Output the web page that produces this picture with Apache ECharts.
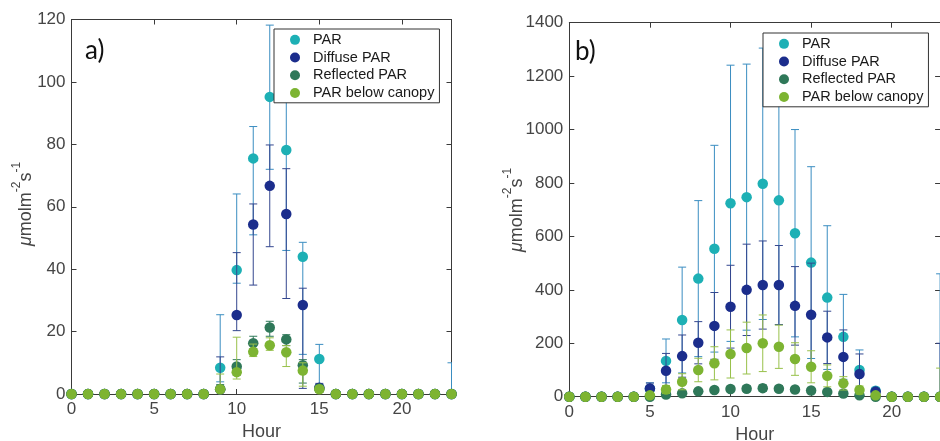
<!DOCTYPE html>
<html>
<head>
<meta charset="utf-8">
<script src="https://cdn.jsdelivr.net/npm/echarts@6/dist/echarts.min.js"></script>
<style>
  html, body { margin: 0; padding: 0; background: #fff; }
  #chart { width: 940px; height: 441px; }
</style>
</head>
<body>
<div id="chart"></div>
<script>
// Hour of day (x axis)
const hours = [0,1,2,3,4,5,6,7,8,9,10,11,12,13,14,15,16,17,18,19,20,21,22,23];

// Panel a) — mean, lower and upper whisker per hour (µmol m-2 s-1)
const parA       = [0,0,0,0,0,0,0,0,0,8.4,39.7,75.5,95.2,78.2,44,11.2,0,0,0,0,0,0,0,0];
const parALow    = [0,0,0,0,0,0,0,0,0,3.9,35.5,51,72,46,12.7,3,0,0,0,0,0,0,0,0];
const parAHigh   = [0,0,0,0,0,0,0,0,0,25.4,64.1,85.7,118.2,110,48.6,15.9,0,0,0,0,0,0,0,10];
const diffA      = [0,0,0,0,0,0,0,0,0,1.5,25.3,54.3,66.7,57.7,28.5,2,0,0,0,0,0,0,0,0];
const diffALow   = [0,0,0,0,0,0,0,0,0,0,20.3,34.9,47.2,30.6,1.8,0.5,0,0,0,0,0,0,0,0];
const diffAHigh  = [0,0,0,0,0,0,0,0,0,11.9,45.3,60.9,79.8,72.2,33.9,3.4,0,0,0,0,0,0,0,0];
const reflA      = [0,0,0,0,0,0,0,0,0,1.5,8.8,16.3,21.3,17.5,9.2,1.8,0,0,0,0,0,0,0,0];
const reflALow   = [0,0,0,0,0,0,0,0,0,0.5,6,14.5,18.5,15.5,3.5,0.8,0,0,0,0,0,0,0,0];
const reflAHigh  = [0,0,0,0,0,0,0,0,0,3,11,18.5,23.3,19,11,2.8,0,0,0,0,0,0,0,0];
const belowA     = [0,0,0,0,0,0,0,0,0,1.5,7,13.5,15.6,13.4,7.5,1.5,0,0,0,0,0,0,0,0];
const belowALow  = [0,0,0,0,0,0,0,0,0,0.5,4.8,12,14,8.8,2.5,0.5,0,0,0,0,0,0,0,0];
const belowAHigh = [0,0,0,0,0,0,0,0,0,6.4,18.2,16,18,15.5,10,2.5,0,0,0,0,0,0,0,0];

// Panel b)
const parB       = [0,0,0,0,0,30,134,287,442,554,724,747,797,735,612,502,371,224,100,22,0,0,0,0];
const parBLow    = [0,0,0,0,0,8,52,89,150,167,207,249,289,270,224,143,102,65,25,9,0,0,0,0];
const parBHigh   = [0,0,0,0,0,52,216,485,734,941,1241,1245,1305,1200,1000,861,640,383,175,35,0,0,0,460];
const diffB      = [0,0,0,0,0,31,97,152,202,265,337,400,418,418,340,307,222,149,85,19,0,0,0,0];
const diffBLow   = [0,0,0,0,0,11,32,73,123,140,182,229,253,270,193,114,124,48,10,8,0,0,0,0];
const diffBHigh  = [0,0,0,0,0,51,162,231,281,390,492,571,583,566,487,500,320,250,160,30,0,0,0,200];
const reflB      = [0,0,0,0,0,0,8,13,20,25,29,30,32,30,27,23,18,12,5,0,0,0,0,0];
const reflBLow   = [0,0,0,0,0,0,4,7,12,16,19,19,20,19,17,15,11,7,2,0,0,0,0,0];
const reflBHigh  = [0,0,0,0,0,0,12,19,28,34,39,41,44,41,37,31,25,17,8,0,0,0,0,0];
const belowB     = [0,0,0,0,0,5,27,56,100,125,160,182,200,187,141,112,78,50,25,5,0,0,0,0];
const belowBLow  = [0,0,0,0,0,2,12,26,56,63,70,85,94,106,80,52,37,25,10,2,0,0,0,0];
const belowBHigh = [0,0,0,0,0,8,42,86,144,187,250,279,306,268,202,172,119,75,40,8,0,0,0,107];

const seriesNames = ['PAR', 'Diffuse PAR', 'Reflected PAR', 'PAR below canopy'];
const markerColors = ['#1db0b5', '#1b2d8c', '#2f7859', '#7db432'];
const whiskerColors = ['#3a8dc1', '#34478f', '#2f7859', '#98c14a'];

const panels = [
  { means: [parA, diffA, reflA, belowA],
    lows:  [parALow, diffALow, reflALow, belowALow],
    highs: [parAHigh, diffAHigh, reflAHigh, belowAHigh] },
  { means: [parB, diffB, reflB, belowB],
    lows:  [parBLow, diffBLow, reflBLow, belowBLow],
    highs: [parBHigh, diffBHigh, reflBHigh, belowBHigh] }
];

const FONT = '"Liberation Sans", Arial, Helvetica, sans-serif';
const AXIS_COLOR = '#3a3a3a';
const LABEL_COLOR = '#454545';

// Vertical whisker with caps at both ends
function whisker(color) {
  return function (params, api) {
    const x = api.value(0), lo = api.value(1), hi = api.value(2);
    if (hi === lo) return null;
    const top = api.coord([x, hi]);
    const bot = api.coord([x, lo]);
    const w = 4;
    const style = { stroke: color, lineWidth: 1 };
    const children = [
      { type: 'line', shape: { x1: top[0], y1: top[1], x2: bot[0], y2: bot[1] }, style },
      { type: 'line', shape: { x1: top[0] - w, y1: top[1], x2: top[0] + w, y2: top[1] }, style }
    ];
    if (lo > 0) {
      children.push({ type: 'line', shape: { x1: bot[0] - w, y1: bot[1], x2: bot[0] + w, y2: bot[1] }, style });
    }
    return { type: 'group', children };
  };
}

const grids = [
  { left: 71.5, top: 19.5, width: 380, height: 374.5 },
  { left: 569.3, top: 22.7, width: 370.8, height: 374 }
];
const yMax = [120, 1400];
const yStep = [20, 200];

const xAxes = [], yAxes = [], series = [];
grids.forEach((g, i) => {
  const common = {
    gridIndex: i,
    axisLine: { show: true, onZero: false, lineStyle: { color: AXIS_COLOR, width: 1 } },
    axisTick: { show: true, inside: true, length: 5, lineStyle: { color: AXIS_COLOR } },
    splitLine: { show: false }
  };
  xAxes.push(Object.assign({}, common, {
    type: 'value', position: 'bottom', min: 0, max: 23, interval: 5,
    axisLabel: {
      show: true, margin: 7, fontSize: 17, color: LABEL_COLOR, fontFamily: FONT,
      showMaxLabel: false,
      formatter: v => (v % 5 === 0 ? String(v) : '')
    },
    name: 'Hour', nameLocation: 'middle', nameGap: 27,
    nameTextStyle: { fontSize: 18, color: LABEL_COLOR, fontFamily: FONT }
  }));
  xAxes.push(Object.assign({}, common, {
    type: 'value', position: 'top', min: 0, max: 23, interval: 5,
    axisLabel: { show: false }
  }));
  yAxes.push(Object.assign({}, common, {
    type: 'value', position: 'left', min: 0, max: yMax[i], interval: yStep[i],
    axisLabel: { show: true, margin: 6, fontSize: 17, color: LABEL_COLOR, fontFamily: FONT,
                 formatter: v => String(v) }
  }));
  yAxes.push(Object.assign({}, common, {
    type: 'value', position: 'right', min: 0, max: yMax[i], interval: yStep[i],
    axisLabel: { show: false }
  }));

  const p = panels[i];
  seriesNames.forEach((name, k) => {
    series.push({
      type: 'custom',
      name: name + ' whisker',
      xAxisIndex: i * 2, yAxisIndex: i * 2,
      renderItem: whisker(whiskerColors[k]),
      encode: { x: 0, y: [1, 2] },
      clip: true,
      z: 2 + k * 2,
      silent: true,
      data: hours.map((h, j) => [h, p.lows[k][j], p.highs[k][j]])
    });
    series.push({
      type: 'scatter',
      name: name,
      xAxisIndex: i * 2, yAxisIndex: i * 2,
      symbol: 'circle',
      symbolSize: 10.5,
      itemStyle: { color: markerColors[k], opacity: 1 },
      z: 3 + k * 2,
      data: hours.map((h, j) => [h, p.means[k][j]])
    });
  });
});

function legendAt(left, top) {
  return {
    orient: 'vertical', left: left, top: top,
    data: seriesNames,
    icon: 'circle',
    itemWidth: 26, itemHeight: 10, itemGap: 0,
    padding: [2, 5, 1, 16],
    borderColor: '#333', borderWidth: 1, backgroundColor: '#fff',
    selectedMode: false,
    textStyle: { fontSize: 14.5, lineHeight: 17.7, color: '#1a1a1a', fontFamily: FONT }
  };
}

// Rotated unit label with superscripts
function unitLabel(x, y) {
  return {
    type: 'text', x: x, y: y, rotation: Math.PI / 2, z: 50,
    style: {
      text: '{mu|μ}{b|molm}{sup|-2}{b|s}{sup|-1}',
      align: 'center', verticalAlign: 'bottom',
      fill: LABEL_COLOR,
      rich: {
        mu: { fontSize: 18, fontStyle: 'italic', fontFamily: FONT, fill: LABEL_COLOR, lineHeight: 24, verticalAlign: 'bottom' },
        b: { fontSize: 18, fontFamily: FONT, fill: LABEL_COLOR, lineHeight: 24, verticalAlign: 'bottom' },
        sup: { fontSize: 12, fontFamily: FONT, fill: LABEL_COLOR, lineHeight: 24, verticalAlign: 'top' }
      }
    }
  };
}

function panelTag(text, x, y) {
  return {
    type: 'text', x: x, y: y, z: 50,
    style: { text: text, fontSize: 26, fontFamily: 'Lato, "Open Sans", sans-serif', fill: '#111', verticalAlign: 'middle' }
  };
}

const chart = echarts.init(document.getElementById('chart'), null, { renderer: 'canvas' });
chart.setOption({
  animation: false,
  backgroundColor: '#fff',
  grid: grids.map(g => Object.assign({ containLabel: false, outerBoundsMode: 'none' }, g)),
  xAxis: xAxes,
  yAxis: yAxes,
  legend: [legendAt(274, 29), legendAt(763, 33)],
  series: series,
  graphic: [
    unitLabel(35, 204),
    unitLabel(526, 210),
    panelTag('a)', 85, 51),
    panelTag('b)', 575, 52)
  ]
});
</script>
</body>
</html>
